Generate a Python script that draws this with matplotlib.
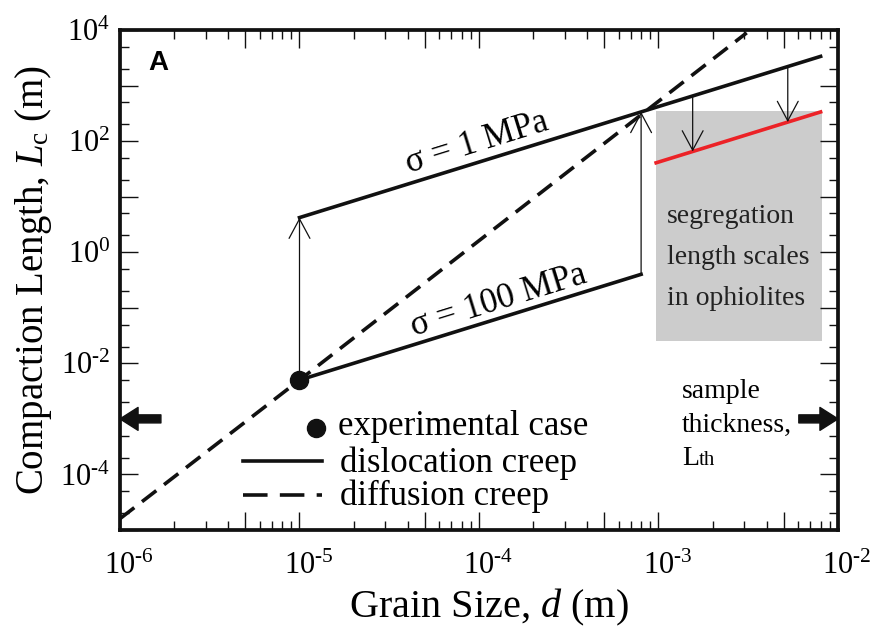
import numpy as np
import matplotlib
matplotlib.use('Agg')
import matplotlib.pyplot as plt
from matplotlib.ticker import FixedLocator, FuncFormatter, NullFormatter
from matplotlib.patches import Rectangle
import matplotlib.transforms as mtransforms

plt.rcParams['font.family'] = ['Liberation Serif', 'DejaVu Serif']
plt.rcParams['mathtext.fontset'] = 'custom'
plt.rcParams['mathtext.rm'] = 'Liberation Serif'
plt.rcParams['mathtext.it'] = 'Liberation Serif:italic'
plt.rcParams['mathtext.bf'] = 'Liberation Serif:bold'

# ---------------- data ----------------
d_diffusion = [1e-6, 1e-5, 3.1e-3]
Lc_diffusion = [1.6e-5, 5e-3, 8.9e3]
d_disl_1MPa = [1e-5, 8e-3]
Lc_disl_1MPa = [4.2, 3350]
d_disl_100MPa = [1e-5, 8e-4]
Lc_disl_100MPa = [5e-3, 0.4]
d_ophiolite = [9.7e-4, 8e-3]
Lc_ophiolite = [40.7, 335]
d_experiment = [1e-5]
Lc_experiment = [5e-3]
up_arrow_d = [1e-5, 8e-4]
up_arrow_from = [5e-3, 0.4]
up_arrow_to = [4.2, 336]
down_arrow_d = [1.55e-3, 5.25e-3]
down_arrow_from = [651, 2200]
down_arrow_to = [65, 220]
box_d = [9.7e-4, 8.1e-3]
box_Lc = [0.025, 350]
L_th = 1e-3
Lth_arrow_left = [1.69e-6, 1e-6]
Lth_arrow_right = [6.05e-3, 1e-2]
x_decades = [1e-6, 1e-5, 1e-4, 1e-3, 1e-2]
y_decades = [10.0 ** e for e in range(-5, 5)]
y_labelled_exp = [-4, -2, 0, 2, 4]

HY = '\u2010'  # short hyphen used in the exponents

# ---------------- figure ----------------
fig = plt.figure(figsize=(8.73, 6.26), dpi=100)
ax = fig.add_axes([120 / 873, 1 - 530 / 626, 718 / 873, 500 / 626])
ax.set_xscale('log')
ax.set_yscale('log')
ax.set_xlim(1e-6, 1e-2)
ax.set_ylim(1e-5, 1e4)

# gray box
ax.add_patch(Rectangle((box_d[0], box_Lc[0]), box_d[1] - box_d[0], box_Lc[1] - box_Lc[0],
                       facecolor='#cccccc', edgecolor='none', zorder=1))

lw = 2.6
ax.plot(d_diffusion, Lc_diffusion, color='#111111', lw=lw, dashes=(5.0, 2.7), zorder=3,
        solid_capstyle='butt')
ax.plot(d_disl_1MPa, Lc_disl_1MPa, color='#111111', lw=lw, zorder=3)
ax.plot(d_disl_100MPa, Lc_disl_100MPa, color='#111111', lw=lw, zorder=3)
ax.plot(d_ophiolite, Lc_ophiolite, color='#ec2227', lw=lw, zorder=4)
ax.plot(d_experiment, Lc_experiment, 'o', color='#111111', ms=13, zorder=6)

thin = dict(arrowstyle='->,head_length=1.4,head_width=0.75', mutation_scale=10,
            color='#111111', lw=0.9, shrinkA=0, shrinkB=0)
for dx, a, b in zip(up_arrow_d, up_arrow_from, up_arrow_to):
    ax.annotate('', xy=(dx, b), xytext=(dx, a), arrowprops=thin, zorder=5)
for dx, a, b in zip(down_arrow_d, down_arrow_from, down_arrow_to):
    ax.annotate('', xy=(dx, b), xytext=(dx, a), arrowprops=thin, zorder=5)

thick = dict(arrowstyle='simple,head_length=1.3,head_width=1.65,tail_width=0.58',
             mutation_scale=10, color='#111111', shrinkA=0, shrinkB=0)
ax.annotate('', xy=(Lth_arrow_left[1], L_th), xytext=(Lth_arrow_left[0], L_th),
            arrowprops=thick, annotation_clip=False)
ax.annotate('', xy=(Lth_arrow_right[1], L_th), xytext=(Lth_arrow_right[0], L_th),
            arrowprops=thick, annotation_clip=False)

# ---------------- ticks ----------------
for s in ax.spines.values():
    s.set_linewidth(2.7)
    s.set_color('#111111')
ax.tick_params(which='both', direction='in', top=True, right=True, width=1.0,
               color='#111111', labelsize=22)
ax.tick_params(which='major', length=13)
ax.tick_params(which='minor', length=6.5)
ax.tick_params(axis='x', which='major', pad=16)
ax.tick_params(axis='y', which='major', pad=7)

x_major = []
for d in x_decades:
    x_major.append(d)
    if d < x_decades[-1]:
        x_major.append(5 * d)
x_minor = [m * d for d in x_decades[:-1] for m in (2, 3, 4, 6, 7, 8, 9)]
ax.xaxis.set_major_locator(FixedLocator(x_major))
ax.xaxis.set_minor_locator(FixedLocator(x_minor))
ax.xaxis.set_minor_formatter(NullFormatter())


def exp_label(e):
    s = str(abs(e))
    if e < 0:
        s = HY + s
    return r'$10^{%s}$' % s


def xfmt(v, pos):
    e = np.log10(v)
    if abs(e - round(e)) < 1e-6:
        return exp_label(int(round(e)))
    return ''


ax.xaxis.set_major_formatter(FuncFormatter(xfmt))

y_minor = [m * d for d in y_decades[:-1] for m in (2, 5)]
ax.yaxis.set_major_locator(FixedLocator(y_decades))
ax.yaxis.set_minor_locator(FixedLocator(y_minor))
ax.yaxis.set_minor_formatter(NullFormatter())


def yfmt(v, pos):
    e = int(round(np.log10(v)))
    if e in y_labelled_exp:
        return exp_label(e)
    return ''


ax.yaxis.set_major_formatter(FuncFormatter(yfmt))

shift = mtransforms.ScaledTranslation(6.5 / 72, 0, fig.dpi_scale_trans)
for lbl in ax.get_xticklabels():
    lbl.set_transform(lbl.get_transform() + shift)

ax.set_xlabel(r'Grain Size, $\mathit{d}$ (m)', fontsize=29)
ax.xaxis.set_label_coords(0.513, -0.113)
ax.set_ylabel(r'Compaction Length, $\mathit{L}_{\mathrm{c}}$ (m)', fontsize=28)
ax.yaxis.set_label_coords(-0.092, 0.5)

# ---------------- annotations ----------------
ang = 17.2
ax.text(10 ** -4.009, 10 ** 1.964, 'σ = 1 MPa', fontsize=25, rotation=ang,
        rotation_mode='anchor', ha='center', va='center', zorder=7)
ax.text(10 ** -3.892, 10 ** -0.875, 'σ = 100 MPa', fontsize=25, rotation=ang,
        rotation_mode='anchor', ha='center', va='center', zorder=7)

ax.text(0.039, 0.919, 'A', transform=ax.transAxes, fontsize=20, fontweight='bold',
        family='Liberation Sans', va='baseline', ha='left')

for txt, yb in zip(['segregation', 'length scales', 'in ophiolites'], [0.614, 0.532, 0.450]):
    ax.text(0.762, yb, txt, transform=ax.transAxes, fontsize=20, va='baseline', ha='left',
            color='#222222', zorder=7)

for txt, yb in zip(['sample', 'thickness,', 'L'], [0.264, 0.196, 0.130]):
    ax.text(0.783, yb, txt, transform=ax.transAxes, fontsize=20, va='baseline', ha='left')
ax.text(0.806, 0.130, 'th', transform=ax.transAxes, fontsize=15, va='baseline', ha='left')

# legend (manual)
ax.plot([0.273], [0.204], 'o', color='#111111', ms=13, transform=ax.transAxes, zorder=7)
ax.text(0.3036, 0.19, 'experimental case', transform=ax.transAxes, fontsize=25,
        va='baseline', ha='left')
ax.plot([0.171, 0.281], [0.138, 0.138], color='#111111', lw=lw, transform=ax.transAxes)
ax.text(0.306, 0.1166, 'dislocation creep', transform=ax.transAxes, fontsize=25,
        va='baseline', ha='left')
ax.plot([0.171, 0.281], [0.070, 0.070], color='#111111', lw=lw, dashes=(6.8, 3.4),
        transform=ax.transAxes)
ax.text(0.306, 0.050, 'diffusion creep', transform=ax.transAxes, fontsize=25,
        va='baseline', ha='left')

fig.savefig('out.png', dpi=100)
